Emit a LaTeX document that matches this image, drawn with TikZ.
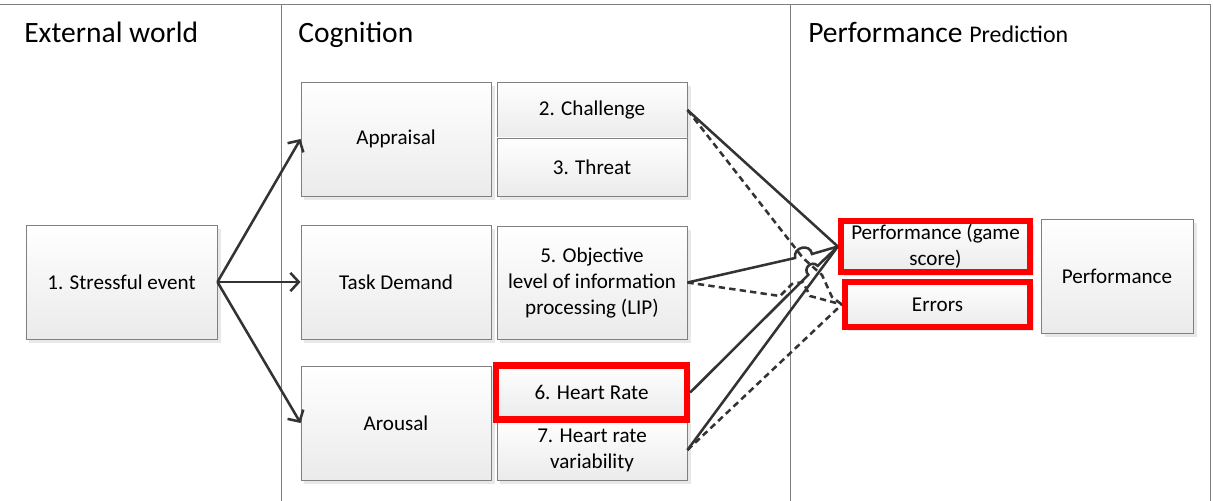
\documentclass[tikz,border=0pt]{standalone}
\usepackage{fontspec}
\setmainfont{Carlito}
\usetikzlibrary{arrows.meta,shadows}
\definecolor{linegray}{HTML}{333333}
\definecolor{framegray}{HTML}{808080}
\tikzset{
  box/.style={
    draw=framegray,
    line width=0.6pt,
    top color=white,
    bottom color=gray!16,
    drop shadow={shadow xshift=2.5pt, shadow yshift=-2.5pt, opacity=.3, fill=gray!60},
    align=center,
    inner sep=2pt,
    font=\fontsize{15}{18.5}\selectfont
  },
  marked/.style={draw=red, line width=4.5pt},
  link/.style={draw=linegray, line width=1.8pt},
  feed/.style={link, -{Straight Barb[length=6pt,width=13pt]}},
  weak/.style={link, dash pattern=on 4.5pt off 3pt},
  heading/.style={anchor=base west, inner sep=0pt, font=\fontsize{21}{25}\selectfont}
}

\begin{document}
\begin{tikzpicture}[x=0.025cm, y=-0.025cm]
  \useasboundingbox (0,0) rectangle (1213,501);

  \draw[framegray, line width=0.6pt] (0,4) -- (1210,4) -- (1210,501);
  \draw[framegray, line width=0.6pt] (281,4) -- (281,501);
  \draw[framegray, line width=0.6pt] (790,4) -- (790,501);

  \node[heading] (world) at (24,42) {External world};
  \node[heading] (cognition) at (298,42) {Cognition};
  \node[heading] (prediction) at (808,42) {Performance {\fontsize{17}{20}\selectfont Prediction}};

  \node[box, minimum width=4.775cm, minimum height=2.85cm] (event) at (121.5,282) {1. Stressful event};

  \node[box, minimum width=4.75cm, minimum height=2.85cm] (appraisal) at (396,139) {Appraisal};
  \node[box, minimum width=4.75cm, minimum height=1.4cm] (challenge) at (592,110) {2. Challenge};
  \node[box, minimum width=4.75cm, minimum height=1.45cm] (threat) at (592,167) {3. Threat};

  \node[box, minimum width=4.75cm, minimum height=2.85cm] (demand) at (396,282) {Task Demand};
  \node[box, minimum width=4.75cm, minimum height=2.825cm] (lip) at (592,282.5) {5. Objective\\level of information\\processing (LIP)};

  \node[box, minimum width=4.75cm, minimum height=2.85cm] (arousal) at (396,423) {Arousal};
  \node[box, minimum width=4.75cm, minimum height=1.5cm] (hrv) at (592,450) {7. Heart rate\\variability};
  \node[box, marked, minimum width=4.775cm, minimum height=1.35cm] (heart) at (591.5,392.5) {6. Heart Rate};

  \node[box, marked, minimum width=4.725cm, minimum height=1.275cm] (score) at (935.5,246.5) {Performance (game\\score)};
  \node[box, marked, minimum width=4.625cm, minimum height=1.125cm] (errors) at (937.5,304.5) {Errors};
  \node[box, minimum width=3.8cm, minimum height=2.85cm] (performance) at (1117,276) {Performance};

  \draw[feed] (event.east) -- (appraisal.west);
  \draw[feed] (event.east) -- (demand.west);
  \draw[feed] (event.east) -- (arousal.west);

  \coordinate (hopa) at (795,258);
  \coordinate (hopb) at (812,254);
  \coordinate (hopc) at (808.3,274.8);
  \coordinate (hopd) at (817.7,265.8);
  \coordinate (bendc) at (803,258);
  \coordinate (bendd) at (822,275);
  \coordinate (bende) at (832,297);
  \coordinate (bendl) at (780,296);
  \coordinate (bendm) at (792,284);
  \coordinate (bendn) at (803,282);
  \coordinate (bendo) at (810,296);

  \draw[link] (challenge.east) -- (score.west);
  \draw[link] (lip.east) -- (hopa) .. controls (793,247) and (810,243) .. (hopb) -- (score.west);
  \draw[link] (heart.east) -- (hopc) .. controls (802.3,268.6) and (811.7,259.6) .. (hopd) -- (score.west);
  \draw[link] (hrv.east) -- (score.west);

  \draw[weak] (challenge.east) -- (bendc) -- (bendd) -- (bende) -- (errors.west);
  \draw[weak] (lip.east) -- (bendl) -- (bendm) -- (bendn) -- (bendo) -- (errors.west);
  \draw[weak] (hrv.east) -- (errors.west);
\end{tikzpicture}
\end{document}
